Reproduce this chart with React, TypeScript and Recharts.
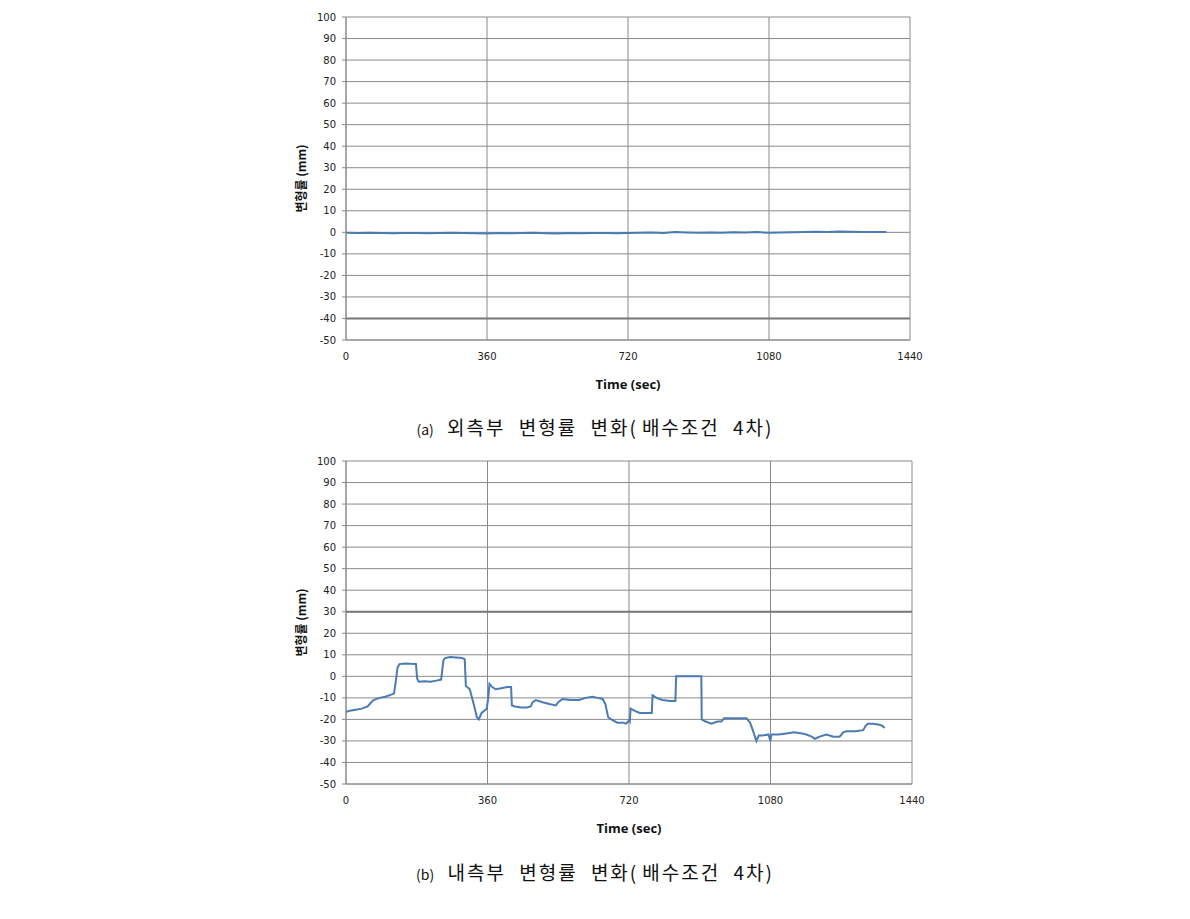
import React from 'react';
import { LineChart, Line, XAxis, YAxis, CartesianGrid, ReferenceLine } from 'recharts';

const xTicks = [0, 360, 720, 1080, 1440];
const yTicks = [-50, -40, -30, -20, -10, 0, 10, 20, 30, 40, 50, 60, 70, 80, 90, 100];

const outerTime = [0, 30, 60, 90, 120, 150, 180, 210, 240, 270, 300, 330, 360, 390, 420, 450, 480, 510, 540, 570, 600, 630, 660, 690, 720, 750, 780, 810, 840, 870, 900, 930, 960, 990, 1020, 1050, 1080, 1110, 1140, 1170, 1200, 1230, 1260, 1290, 1320, 1350, 1380];
const outerValue = [-0.2, -0.3, -0.2, -0.3, -0.4, -0.3, -0.3, -0.4, -0.3, -0.2, -0.3, -0.4, -0.5, -0.3, -0.4, -0.3, -0.2, -0.4, -0.5, -0.3, -0.4, -0.3, -0.3, -0.4, -0.3, -0.2, -0.1, -0.3, 0.1, -0.1, -0.2, -0.1, -0.2, 0.0, -0.1, 0.1, -0.2, -0.1, 0.0, 0.1, 0.3, 0.2, 0.4, 0.3, 0.2, 0.1, 0.2];

const innerTime = [0, 10, 25, 40, 55, 62, 70, 85, 100, 115, 122, 127, 131, 136, 150, 165, 178, 181, 185, 200, 215, 230, 242, 245, 248, 252, 265, 280, 295, 302, 305, 315, 325, 333, 338, 345, 352, 358, 362, 365, 372, 381, 395, 410, 420, 422, 430, 445, 460, 470, 475, 483, 500, 520, 534, 540, 551, 570, 593, 610, 627, 640, 653, 660, 667, 675, 690, 705, 713, 720, 722, 724, 735, 747, 765, 778, 780, 790, 805, 825, 838, 840, 870, 904, 905, 915, 930, 945, 955, 962, 980, 1000, 1019, 1028, 1035, 1044, 1050, 1060, 1075, 1078, 1080, 1082, 1100, 1120, 1140, 1160, 1171, 1185, 1193, 1205, 1222, 1240, 1256, 1265, 1273, 1295, 1316, 1322, 1328, 1340, 1357, 1365, 1370];
const innerValue = [-16.5, -16, -15.5, -15, -14, -12.5, -11, -10, -9.5, -8.5, -8, -2, 4, 5.7, 6, 5.8, 5.7, -1, -2.5, -2.3, -2.5, -2, -1.5, 3, 7.5, 8.5, 9, 8.8, 8.5, 8, -4.5, -6, -13, -19, -20, -17, -16, -15, -10, -3.5, -5, -6, -5.5, -5, -5, -13.5, -14, -14.5, -14.5, -14, -12, -11, -12, -13, -13.5, -12, -10.5, -11, -11, -10, -9.5, -10, -10.5, -13, -19, -20, -21.5, -21.5, -22, -20.5, -21, -15, -16, -17, -17, -17, -8.8, -10, -11, -11.5, -11.5, 0, 0, 0, -20, -21, -22, -21, -21, -19.5, -19.5, -19.5, -19.5, -21.5, -25, -30, -27.5, -27.5, -27, -29, -30, -27, -27, -26.5, -26, -26.5, -27, -28, -29, -28, -27, -28, -28, -26, -25.5, -25.5, -25, -23, -22, -22, -22.5, -23, -24];

const outerData = outerTime.map((t, i) => ({ t, v: outerValue[i] }));
const innerData = innerTime.map((t, i) => ({ t, v: innerValue[i] }));

const GRID = '#8a8a8a';
const LINE = '#4a7bb5';
const tickFont = { fontFamily: 'DejaVu Sans', fontSize: 10, fill: '#222' };

const YLabel = (props: any) => {
  const vb = props.viewBox || {};
  const x = vb.x + 10;
  const y = vb.y + vb.height / 2;
  return (
    <text x={x} y={y} transform={`rotate(-90 ${x} ${y})`} textAnchor="middle" dominantBaseline="central"
      style={{ fontFamily: 'Noto Sans CJK KR', fontSize: 12, fontWeight: 700, fill: '#111' }}>
      변형률 (mm)
    </text>
  );
};

function Panel({ data, right, thick }: { data: { t: number; v: number }[]; right: number; thick: number }) {
  return (
    <LineChart width={1190} height={420} data={data} margin={{ top: 17, left: 290, right: right, bottom: 0 }}>
      <CartesianGrid stroke={GRID} strokeWidth={1} horizontalValues={yTicks} verticalValues={xTicks} />
      <ReferenceLine y={thick} stroke="#777" strokeWidth={2} />
      <XAxis type="number" dataKey="t" domain={[0, 1440]} ticks={xTicks} interval={0}
        tickSize={0} tickMargin={13} axisLine={{ stroke: GRID }} tick={tickFont}
        label={{ value: 'Time (sec)', position: 'insideBottom', offset: 31, style: { fontFamily: 'Open Sans', fontSize: 13, fontWeight: 700, fill: '#111' } } as any} height={80} />
      <YAxis type="number" domain={[-50, 100]} ticks={yTicks} interval={0} width={56}
        tickSize={4} tickMargin={6} axisLine={{ stroke: GRID }} tickLine={{ stroke: GRID }} tick={tickFont}
        label={<YLabel />} />
      <Line type="linear" dataKey="v" stroke={LINE} strokeWidth={2} dot={false} isAnimationActive={false} />
    </LineChart>
  );
}

const captionStyle: React.CSSProperties = {
  position: 'absolute', left: 0, width: 1190, textAlign: 'center', whiteSpace: 'pre',
  fontFamily: 'Noto Sans CJK KR', fontSize: 19, color: '#111', letterSpacing: 2, wordSpacing: 7, lineHeight: '26px',
};

export default function App() {
  return (
    <div style={{ position: 'absolute', left: 0, top: 0, width: 1190, height: 919, background: '#fff' }}>
      <div style={{ position: 'absolute', left: 0, top: 0 }}>
        <Panel data={outerData} right={280} thick={-40} />
      </div>
      <div style={{ position: 'absolute', left: 0, top: 444 }}>
        <Panel data={innerData} right={278} thick={30} />
      </div>
      <div style={{ ...captionStyle, top: 414 }}>
        <span style={{ fontSize: 14, letterSpacing: 0 }}>(a)</span> 외측부 변형률 변화(<span style={{ marginLeft: 4 }}>배수조건</span> 4차)
      </div>
      <div style={{ ...captionStyle, top: 859 }}>
        <span style={{ fontSize: 14, letterSpacing: 0 }}>(b)</span> 내측부 변형률 변화(<span style={{ marginLeft: 4 }}>배수조건</span> 4차)
      </div>
    </div>
  );
}
